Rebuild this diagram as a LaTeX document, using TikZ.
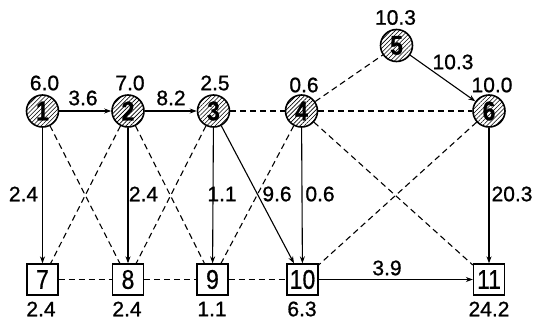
\documentclass[tikz,border=0pt]{standalone}
\usepackage{fontspec}
\setmainfont{Liberation Sans}
\newfontfamily\numfont[FakeStretch=0.85,FakeBold=0.6]{Liberation Sans}
\newfontfamily\labfont[FakeBold=0.9]{Liberation Sans}
\usetikzlibrary{arrows.meta,patterns.meta}
\begin{document}
\begin{tikzpicture}[x=1pt,y=-1pt,
  evt/.style={circle,draw,line width=1.6pt,minimum size=32pt,inner sep=0pt,
    pattern={Lines[angle=45,distance=3pt,line width=0.6pt]},
    font=\numfont\bfseries\fontsize{27}{27}\selectfont},
  job/.style={rectangle,draw,line width=1.3pt,minimum width=31pt,minimum height=31pt,
    inner sep=0pt,fill=white,font=\numfont\fontsize{27}{27}\selectfont},
  val/.style={inner sep=0pt,font=\labfont\fontsize{21}{21}\selectfont},
  act/.style={line width=1.1pt,-{Stealth[length=7pt,width=5pt]}},
  dum/.style={line width=1.1pt,dash pattern=on 6pt off 4pt}]
\useasboundingbox (0,0) rectangle (534,324);

% event circles
\node[evt] (n1) at (42.5,111) {1};
\node[evt] (n2) at (128,111) {2};
\node[evt] (n3) at (213.5,111) {3};
\node[evt] (n4) at (301.5,111) {4};
\node[evt] (n5) at (396.5,45.5) {5};
\node[evt] (n6) at (489,111) {6};

% job boxes
\node[job] (n7) at (42.5,279.5) {7};
\node[job] (n8) at (128,279.5) {8};
\node[job] (n9) at (212.5,279.5) {9};
\node[job] (n10) at (302.5,279.5) {10};
\node[job] (n11) at (489,279.5) {11};

% dummy links
\draw[dum] (n1) -- (n8);
\draw[dum] (n2) -- (n7);
\draw[dum] (n2) -- (n9);
\draw[dum] (n3) -- (n8);
\draw[dum] (n3) -- (n4);
\draw[dum] (n4) -- (n5);
\draw[dum] (n4) -- (n6);
\draw[dum] (n4) -- (n9);
\draw[dum] (n4) -- (n11);
\draw[dum] (n6) -- (n10);
\draw[dum] (n7) -- (n8);
\draw[dum] (n8) -- (n9);
\draw[dum] (n9) -- (n10);

% activities
\draw[act] (n1) -- (n2);
\draw[act] (n2) -- (n3);
\draw[act] (n5) -- (n6);
\draw[act] (n1) -- (n7);
\draw[act] (n2) -- (n8);
\draw[act] (n3) -- (n9);
\draw[act] (n3) -- (n10);
\draw[act] (n4) -- (n10);
\draw[act] (n6) -- (n11);
\draw[act] (n10) -- (n11);

% event values
\node[val] (v1) at (44.5,83) {6.0};
\node[val] (v2) at (130,83) {7.0};
\node[val] (v3) at (215,83) {2.5};
\node[val] (v4) at (304,85) {0.6};
\node[val] (v5) at (395.5,17.5) {10.3};
\node[val] (v6) at (492,85) {10.0};

% activity durations
\node[val] (d12) at (83,98) {3.6};
\node[val] (d23) at (171,98) {8.2};
\node[val] (d56) at (453,62) {10.3};
\node[val] (d17) at (23.5,194) {2.4};
\node[val] (d28) at (143.5,194) {2.4};
\node[val] (d39) at (222,194) {1.1};
\node[val] (d310) at (277,194) {9.6};
\node[val] (d410) at (320,194) {0.6};
\node[val] (d611) at (512,194) {20.3};
\node[val] (d1011) at (387,268) {3.9};

% job values
\node[val] (w7) at (41,309) {2.4};
\node[val] (w8) at (127,309) {2.4};
\node[val] (w9) at (212,309) {1.1};
\node[val] (w10) at (302,309) {6.3};
\node[val] (w11) at (489,309) {24.2};
\end{tikzpicture}
\end{document}
